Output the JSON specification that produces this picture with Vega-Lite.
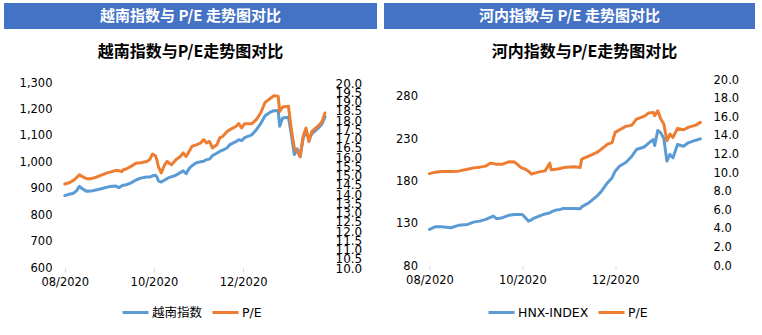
{
  "$schema": "https://vega.github.io/schema/vega-lite/v6.json",
  "padding": {"left": 4, "top": 3, "right": 0, "bottom": 0},
  "background": "white",
  "datasets": {
    "vn": [
      {"d": "2020-08-01", "idx": 874, "pe": 14.54},
      {"d": "2020-08-04", "idx": 879, "pe": 14.61},
      {"d": "2020-08-07", "idx": 883, "pe": 14.74},
      {"d": "2020-08-09", "idx": 892, "pe": 14.88},
      {"d": "2020-08-11", "idx": 909, "pe": 15.04},
      {"d": "2020-08-13", "idx": 900, "pe": 14.94},
      {"d": "2020-08-16", "idx": 890, "pe": 14.83},
      {"d": "2020-08-19", "idx": 891, "pe": 14.83},
      {"d": "2020-08-23", "idx": 896, "pe": 14.92},
      {"d": "2020-08-26", "idx": 900, "pe": 15.02},
      {"d": "2020-08-30", "idx": 906, "pe": 15.14},
      {"d": "2020-09-01", "idx": 908, "pe": 15.18},
      {"d": "2020-09-05", "idx": 910, "pe": 15.28},
      {"d": "2020-09-07", "idx": 904, "pe": 15.26},
      {"d": "2020-09-09", "idx": 911, "pe": 15.21},
      {"d": "2020-09-10", "idx": 913, "pe": 15.31},
      {"d": "2020-09-12", "idx": 915, "pe": 15.35},
      {"d": "2020-09-15", "idx": 921, "pe": 15.48},
      {"d": "2020-09-19", "idx": 934, "pe": 15.68},
      {"d": "2020-09-22", "idx": 940, "pe": 15.69},
      {"d": "2020-09-26", "idx": 944, "pe": 15.76},
      {"d": "2020-09-28", "idx": 944, "pe": 15.85},
      {"d": "2020-09-30", "idx": 949, "pe": 16.16},
      {"d": "2020-10-02", "idx": 951, "pe": 16.07},
      {"d": "2020-10-03", "idx": 945, "pe": 15.85},
      {"d": "2020-10-04", "idx": 930, "pe": 15.48},
      {"d": "2020-10-06", "idx": 925, "pe": 15.14},
      {"d": "2020-10-08", "idx": 932, "pe": 15.53},
      {"d": "2020-10-10", "idx": 938, "pe": 15.76},
      {"d": "2020-10-11", "idx": 942, "pe": 15.69},
      {"d": "2020-10-13", "idx": 945, "pe": 15.58},
      {"d": "2020-10-16", "idx": 951, "pe": 15.85},
      {"d": "2020-10-19", "idx": 961, "pe": 16.03},
      {"d": "2020-10-21", "idx": 968, "pe": 16.22},
      {"d": "2020-10-23", "idx": 957, "pe": 16.03},
      {"d": "2020-10-25", "idx": 976, "pe": 16.29},
      {"d": "2020-10-27", "idx": 987, "pe": 16.57},
      {"d": "2020-10-30", "idx": 998, "pe": 16.66},
      {"d": "2020-11-02", "idx": 1002, "pe": 16.76},
      {"d": "2020-11-04", "idx": 1004, "pe": 16.94},
      {"d": "2020-11-06", "idx": 1010, "pe": 16.76},
      {"d": "2020-11-08", "idx": 1012, "pe": 16.84},
      {"d": "2020-11-10", "idx": 1025, "pe": 16.49},
      {"d": "2020-11-13", "idx": 1034, "pe": 16.66},
      {"d": "2020-11-15", "idx": 1041, "pe": 17.03},
      {"d": "2020-11-17", "idx": 1046, "pe": 17.11},
      {"d": "2020-11-20", "idx": 1054, "pe": 17.38},
      {"d": "2020-11-22", "idx": 1067, "pe": 17.48},
      {"d": "2020-11-26", "idx": 1078, "pe": 17.65},
      {"d": "2020-11-28", "idx": 1085, "pe": 17.8},
      {"d": "2020-11-30", "idx": 1082, "pe": 17.57},
      {"d": "2020-12-02", "idx": 1093, "pe": 17.8},
      {"d": "2020-12-07", "idx": 1104, "pe": 17.8},
      {"d": "2020-12-10", "idx": 1123, "pe": 18.02},
      {"d": "2020-12-13", "idx": 1146, "pe": 18.38},
      {"d": "2020-12-16", "idx": 1176, "pe": 18.95},
      {"d": "2020-12-20", "idx": 1191, "pe": 19.19},
      {"d": "2020-12-22", "idx": 1195, "pe": 19.31},
      {"d": "2020-12-25", "idx": 1196, "pe": 19.28},
      {"d": "2020-12-26", "idx": 1136, "pe": 18.46},
      {"d": "2020-12-28", "idx": 1168, "pe": 18.7},
      {"d": "2021-01-01", "idx": 1170, "pe": 18.74},
      {"d": "2021-01-03", "idx": 1104, "pe": 17.48},
      {"d": "2021-01-05", "idx": 1029, "pe": 16.49},
      {"d": "2021-01-07", "idx": 1051, "pe": 16.3},
      {"d": "2021-01-09", "idx": 1021, "pe": 16.03},
      {"d": "2021-01-11", "idx": 1089, "pe": 17.11},
      {"d": "2021-01-13", "idx": 1120, "pe": 17.57},
      {"d": "2021-01-15", "idx": 1085, "pe": 16.84},
      {"d": "2021-01-17", "idx": 1108, "pe": 17.38},
      {"d": "2021-01-21", "idx": 1127, "pe": 17.65},
      {"d": "2021-01-24", "idx": 1146, "pe": 17.92},
      {"d": "2021-01-26", "idx": 1172, "pe": 18.38}
    ],
    "hnx": [
      {"d": "2020-08-01", "idx": 123.3, "pe": 9.93},
      {"d": "2020-08-05", "idx": 126.5, "pe": 10.09},
      {"d": "2020-08-09", "idx": 126.5, "pe": 10.17},
      {"d": "2020-08-15", "idx": 125.3, "pe": 10.17},
      {"d": "2020-08-20", "idx": 128.1, "pe": 10.2},
      {"d": "2020-08-26", "idx": 129.2, "pe": 10.41},
      {"d": "2020-08-30", "idx": 131.9, "pe": 10.55},
      {"d": "2020-09-03", "idx": 133.1, "pe": 10.63},
      {"d": "2020-09-07", "idx": 135.1, "pe": 10.74},
      {"d": "2020-09-10", "idx": 137.5, "pe": 11.06},
      {"d": "2020-09-12", "idx": 139.0, "pe": 11.01},
      {"d": "2020-09-14", "idx": 136.0, "pe": 10.95},
      {"d": "2020-09-18", "idx": 137.1, "pe": 10.95},
      {"d": "2020-09-22", "idx": 139.9, "pe": 11.2},
      {"d": "2020-09-26", "idx": 141.0, "pe": 11.17},
      {"d": "2020-09-30", "idx": 141.0, "pe": 10.6},
      {"d": "2020-10-01", "idx": 141.0, "pe": 10.52},
      {"d": "2020-10-03", "idx": 137.1, "pe": 10.41},
      {"d": "2020-10-05", "idx": 133.1, "pe": 10.2},
      {"d": "2020-10-07", "idx": 134.5, "pe": 9.88},
      {"d": "2020-10-08", "idx": 136.0, "pe": 9.93},
      {"d": "2020-10-12", "idx": 139.0, "pe": 10.12},
      {"d": "2020-10-15", "idx": 141.0, "pe": 10.2},
      {"d": "2020-10-16", "idx": 141.6, "pe": 10.23},
      {"d": "2020-10-19", "idx": 142.8, "pe": 11.06},
      {"d": "2020-10-20", "idx": 144.0, "pe": 10.34},
      {"d": "2020-10-23", "idx": 146.1, "pe": 10.41},
      {"d": "2020-10-26", "idx": 146.9, "pe": 10.49},
      {"d": "2020-10-28", "idx": 148.1, "pe": 10.58},
      {"d": "2020-11-04", "idx": 148.1, "pe": 10.66},
      {"d": "2020-11-08", "idx": 147.8, "pe": 10.6},
      {"d": "2020-11-09", "idx": 149.9, "pe": 11.49},
      {"d": "2020-11-14", "idx": 155.2, "pe": 11.85},
      {"d": "2020-11-19", "idx": 162.6, "pe": 12.21},
      {"d": "2020-11-22", "idx": 168.5, "pe": 12.57},
      {"d": "2020-11-26", "idx": 178.5, "pe": 13.11},
      {"d": "2020-11-29", "idx": 184.4, "pe": 13.27},
      {"d": "2020-12-01", "idx": 192.2, "pe": 14.37},
      {"d": "2020-12-04", "idx": 198.3, "pe": 14.65},
      {"d": "2020-12-08", "idx": 202.4, "pe": 15.01},
      {"d": "2020-12-12", "idx": 209.9, "pe": 15.15},
      {"d": "2020-12-15", "idx": 217.8, "pe": 15.8},
      {"d": "2020-12-20", "idx": 220.7, "pe": 16.09},
      {"d": "2020-12-23", "idx": 225.4, "pe": 16.45},
      {"d": "2020-12-26", "idx": 229.6, "pe": 16.52},
      {"d": "2020-12-27", "idx": 222.5, "pe": 16.16},
      {"d": "2020-12-29", "idx": 240.2, "pe": 16.69},
      {"d": "2020-12-31", "idx": 237.5, "pe": 15.8},
      {"d": "2021-01-02", "idx": 230.8, "pe": 15.26},
      {"d": "2021-01-04", "idx": 204.0, "pe": 13.46},
      {"d": "2021-01-06", "idx": 211.9, "pe": 14.18},
      {"d": "2021-01-08", "idx": 208.0, "pe": 13.83},
      {"d": "2021-01-11", "idx": 223.7, "pe": 14.8},
      {"d": "2021-01-15", "idx": 221.7, "pe": 14.65},
      {"d": "2021-01-18", "idx": 225.7, "pe": 14.91},
      {"d": "2021-01-23", "idx": 228.8, "pe": 15.15},
      {"d": "2021-01-26", "idx": 230.4, "pe": 15.44}
    ]
  },
  "hconcat": [
    {
      "center": true,
      "bounds": "flush",
      "spacing": 54,
      "vconcat": [
        {
          "width": 373,
          "height": 26,
          "view": {"fill": "#4472C4", "stroke": null},
          "data": {"values": [{"t": "越南指数与 P/E 走势图对比"}]},
          "mark": {"type": "text", "font": "Noto Sans CJK SC", "fontWeight": "bold", "fontSize": 15, "color": "white"},
          "encoding": {"text": {"field": "t"}}
        },
        {
          "width": 269,
          "height": 185,
          "title": {"text": "越南指数与P/E走势图对比", "dx": 0},
          "data": {"name": "vn"},
          "encoding": {
            "x": {
              "field": "d", "type": "temporal", "title": null,
              "scale": {"type": "utc", "domain": [{"year": 2020, "month": 7, "date": 26, "utc": true}, {"year": 2021, "month": 1, "date": 26, "utc": true}]},
              "axis": {
                "values": [{"year": 2020, "month": 8, "date": 1, "utc": true}, {"year": 2020, "month": 10, "date": 1, "utc": true}, {"year": 2020, "month": 12, "date": 1, "utc": true}],
                "format": "%m/%Y", "labelFlush": false, "domain": false, "ticks": true, "tickColor": "#D9D9D9", "tickSize": 4, "labelPadding": 4
              }
            }
          },
          "layer": [
            {
              "data": {"values": [{"base": "axis"}]},
              "mark": {"type": "rule", "color": "#D9D9D9", "strokeWidth": 1},
              "encoding": {
                "x": {"datum": {"year": 2020, "month": 8, "date": 1, "utc": true}, "type": "temporal"},
                "x2": {"datum": {"year": 2021, "month": 1, "date": 26, "utc": true}},
                "y": {"datum": 600, "type": "quantitative", "scale": {"domain": [600, 1300], "nice": false, "zero": false}, "axis": null}
              }
            },
            {
              "mark": {"type": "line", "strokeWidth": 3, "strokeJoin": "round", "strokeCap": "round"},
              "encoding": {
                "y": {"field": "idx", "type": "quantitative", "title": null,
                  "scale": {"domain": [600, 1300], "nice": false, "zero": false},
                  "axis": {"values": [600, 700, 800, 900, 1000, 1100, 1200, 1300], "format": ",d", "labelPadding": 4}},
                "color": {"datum": "越南指数", "scale": {"domain": ["越南指数", "P/E"], "range": ["#5B9BD5", "#ED7D31"]},
                  "legend": {"orient": "none", "direction": "horizontal", "legendX": 117, "legendY": 295}}
              }
            },
            {
              "mark": {"type": "line", "strokeWidth": 3, "strokeJoin": "round", "strokeCap": "round"},
              "encoding": {
                "y": {"field": "pe", "type": "quantitative", "title": null,
                  "scale": {"domain": [10, 20], "nice": false, "zero": false},
                  "axis": {"orient": "right", "values": [10, 10.5, 11, 11.5, 12, 12.5, 13, 13.5, 14, 14.5, 15, 15.5, 16, 16.5, 17, 17.5, 18, 18.5, 19, 19.5, 20], "format": ".1f", "labelOverlap": false, "labelPadding": 10, "labelFontSize": 12}},
                "color": {"datum": "P/E"}
              }
            }
          ],
          "resolve": {"scale": {"y": "independent"}}
        }
      ]
    },
    {
      "center": true,
      "bounds": "flush",
      "spacing": 51,
      "vconcat": [
        {
          "width": 371,
          "height": 26,
          "view": {"fill": "#4472C4", "stroke": null},
          "data": {"values": [{"t": "河内指数与 P/E 走势图对比"}]},
          "mark": {"type": "text", "font": "Noto Sans CJK SC", "fontWeight": "bold", "fontSize": 15, "color": "white"},
          "encoding": {"text": {"field": "t"}}
        },
        {
          "width": 280,
          "height": 186,
          "title": {"text": "河内指数与P/E走势图对比", "dx": 15, "offset": 14},
          "data": {"name": "hnx"},
          "encoding": {
            "x": {
              "field": "d", "type": "temporal", "title": null,
              "scale": {"type": "utc", "domain": [{"year": 2020, "month": 8, "date": 1, "utc": true}, {"year": 2021, "month": 2, "date": 1, "utc": true}]},
              "axis": {
                "values": [{"year": 2020, "month": 8, "date": 1, "utc": true}, {"year": 2020, "month": 10, "date": 1, "utc": true}, {"year": 2020, "month": 12, "date": 1, "utc": true}],
                "format": "%m/%Y", "labelFlush": false, "domain": false, "ticks": true, "tickColor": "#D9D9D9", "tickSize": 4, "labelPadding": 4
              }
            }
          },
          "layer": [
            {
              "data": {"values": [{"base": "axis"}]},
              "mark": {"type": "rule", "color": "#D9D9D9", "strokeWidth": 1},
              "encoding": {
                "x": {"datum": {"year": 2020, "month": 8, "date": 1, "utc": true}, "type": "temporal"},
                "x2": {"datum": {"year": 2021, "month": 1, "date": 26, "utc": true}},
                "y": {"datum": 80, "type": "quantitative", "scale": {"domain": [80, 300], "nice": false, "zero": false}, "axis": null}
              }
            },
            {
              "mark": {"type": "line", "strokeWidth": 3, "strokeJoin": "round", "strokeCap": "round"},
              "encoding": {
                "y": {"field": "idx", "type": "quantitative", "title": null,
                  "scale": {"domain": [80, 300], "nice": false, "zero": false},
                  "axis": {"values": [80, 130, 180, 230, 280], "format": "d", "labelPadding": 12}},
                "color": {"datum": "HNX-INDEX", "scale": {"domain": ["HNX-INDEX", "P/E"], "range": ["#5B9BD5", "#ED7D31"]},
                  "legend": {"orient": "none", "direction": "horizontal", "legendX": 103, "legendY": 295}}
              }
            },
            {
              "mark": {"type": "line", "strokeWidth": 3, "strokeJoin": "round", "strokeCap": "round"},
              "encoding": {
                "y": {"field": "pe", "type": "quantitative", "title": null,
                  "scale": {"domain": [0, 20], "nice": false, "zero": false},
                  "axis": {"orient": "right", "values": [0, 2, 4, 6, 8, 10, 12, 14, 16, 18, 20], "format": ".1f", "labelOverlap": false, "labelPadding": 3.5}},
                "color": {"datum": "P/E"}
              }
            }
          ],
          "resolve": {"scale": {"y": "independent"}}
        }
      ]
    }
  ],
  "spacing": 7,
  "resolve": {"scale": {"color": "independent"}},
  "config": {
    "view": {"stroke": null},
    "axis": {"labelFont": "DejaVu Sans", "labelFontSize": 11.5, "labelColor": "#000000", "grid": false, "domain": false, "ticks": false},
    "title": {"font": "Noto Sans CJK SC", "fontSize": 16, "fontWeight": "bold", "color": "#000000", "anchor": "middle", "offset": 17},
    "legend": {
      "title": null,
      "symbolType": "stroke", "symbolStrokeWidth": 3, "symbolSize": 676,
      "labelFont": "DejaVu Sans, Noto Sans CJK SC", "labelFontSize": 12.5, "labelColor": "#000000",
      "columnPadding": 3, "labelOffset": 2
    }
  }
}
